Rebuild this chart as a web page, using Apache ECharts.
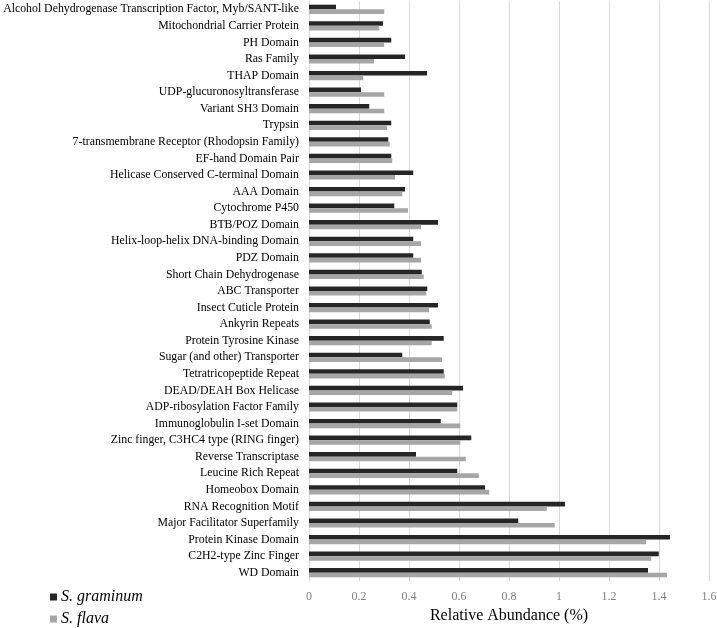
<!DOCTYPE html>
<html><head><meta charset="utf-8">
<script src="https://cdn.jsdelivr.net/npm/echarts@6/dist/echarts.min.js"></script>
<style>html,body{margin:0;padding:0;background:#fff}#c{width:717px;height:628px}</style>
</head><body><div id="c"></div>
<script>
// Categories listed top to bottom as in the picture
const categories = [
  "Alcohol Dehydrogenase Transcription Factor, Myb/SANT-like",
  "Mitochondrial Carrier Protein",
  "PH Domain",
  "Ras Family",
  "THAP Domain",
  "UDP-glucuronosyltransferase",
  "Variant SH3 Domain",
  "Trypsin",
  "7-transmembrane Receptor (Rhodopsin Family)",
  "EF-hand Domain Pair",
  "Helicase Conserved C-terminal Domain",
  "AAA Domain",
  "Cytochrome P450",
  "BTB/POZ Domain",
  "Helix-loop-helix DNA-binding Domain",
  "PDZ Domain",
  "Short Chain Dehydrogenase",
  "ABC Transporter",
  "Insect Cuticle Protein",
  "Ankyrin Repeats",
  "Protein Tyrosine Kinase",
  "Sugar (and other) Transporter",
  "Tetratricopeptide Repeat",
  "DEAD/DEAH Box Helicase",
  "ADP-ribosylation Factor Family",
  "Immunoglobulin I-set Domain",
  "Zinc finger, C3HC4 type (RING finger)",
  "Reverse Transcriptase",
  "Leucine Rich Repeat",
  "Homeobox Domain",
  "RNA Recognition Motif",
  "Major Facilitator Superfamily",
  "Protein Kinase Domain",
  "C2H2-type Zinc Finger",
  "WD Domain"
];
const graminum = [0.108,0.296,0.329,0.384,0.472,0.208,0.241,0.329,0.317,0.329,0.417,0.384,0.341,0.516,0.417,0.417,0.451,0.473,0.516,0.483,0.539,0.373,0.539,0.616,0.593,0.527,0.649,0.428,0.593,0.704,1.024,0.837,1.444,1.399,1.356];
const flava    = [0.301,0.281,0.301,0.260,0.217,0.301,0.301,0.312,0.323,0.333,0.344,0.373,0.396,0.448,0.448,0.448,0.459,0.469,0.480,0.491,0.491,0.532,0.543,0.573,0.593,0.605,0.605,0.627,0.679,0.721,0.951,0.983,1.349,1.369,1.432];
const seriesNames = ["S. graminum", "S. flava"];
const xTicks = {min: 0, max: 1.6, interval: 0.2};

const chart = echarts.init(document.getElementById('c'), null, {renderer: 'canvas'});
const serif = "'Liberation Serif', 'Times New Roman', serif";
chart.setOption({
  animation: false,
  backgroundColor: '#fff',
  grid: {left: 309, right: 8, top: 1, height: 580, containLabel: false, outerBoundsMode: 'none'},
  legend: {
    orient: 'vertical', left: 50, top: 589, padding: 0, itemWidth: 7, itemHeight: 7, itemGap: 6,
    icon: 'rect',
    textStyle: {fontFamily: serif, fontStyle: 'italic', fontSize: 16, color: '#000', padding: [0,0,0,-1]},
    data: seriesNames
  },
  xAxis: {
    type: 'value', min: xTicks.min, max: xTicks.max, interval: xTicks.interval,
    name: 'Relative Abundance (%)', nameLocation: 'middle', nameGap: 26,
    nameTextStyle: {fontFamily: serif, fontSize: 16, color: '#000'},
    axisLine: {show: false}, axisTick: {show: false},
    axisLabel: {fontFamily: serif, fontSize: 12, color: '#7f7f7f', margin: 10,
      formatter: v => String(+v.toFixed(1))},
    splitLine: {lineStyle: {color: '#d9d9d9', width: 1}}
  },
  yAxis: {
    type: 'category', data: categories, inverse: true,
    axisLine: {show: true, lineStyle: {color: '#d9d9d9'}}, axisTick: {show: false},
    axisLabel: {fontFamily: serif, fontSize: 11.8, color: '#000', margin: 10, interval: 0}
  },
  series: [
    {name: seriesNames[0], type: 'bar', data: graminum, barWidth: 4.6, barGap: '0%',
      itemStyle: {color: '#262626'}},
    {name: seriesNames[1], type: 'bar', data: flava, barWidth: 4.6, barGap: '0%',
      itemStyle: {color: '#a6a6a6'}}
  ]
});
</script></body></html>
